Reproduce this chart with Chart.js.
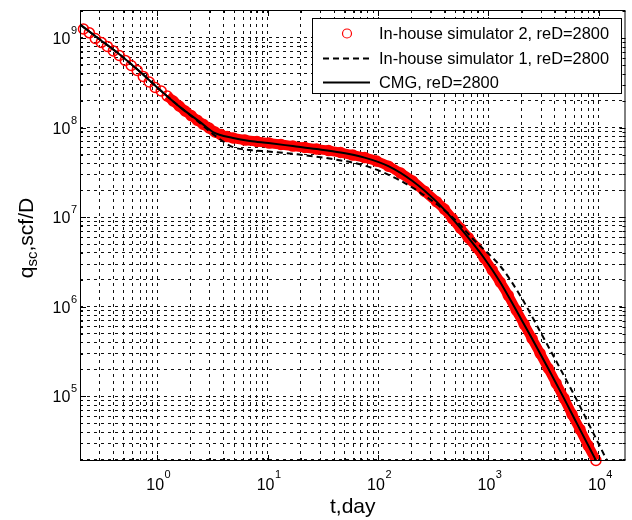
<!DOCTYPE html>
<html>
<head>
<meta charset="utf-8">
<script src="https://cdn.jsdelivr.net/npm/chart.js@4.4.1/dist/chart.umd.min.js"></script>
<style>
html,body{margin:0;padding:0;background:#fff}
#wrap{width:632px;height:520px}
</style>
</head>
<body>
<div id="wrap"><canvas id="mainChart" width="632" height="520"></canvas></div>
<script>
// CMG, reD=2800 (t in day, q in scf/D)
const cmgT = [0.2018, 0.306, 0.463, 0.702, 1.064, 1.61, 2.45, 3.2, 4.86, 6.91, 10.2, 16.9, 27.8, 45.8, 75.5, 124, 205, 338, 471, 656, 915, 1277, 1782, 2483, 3465, 4830, 6731, 9397];
const cmgQ = [1.4e9, 9.5e8, 6.46e8, 4.17e8, 2.62e8, 1.69e8, 1.15e8, 8.91e7, 7.64e7, 7.06e7, 6.71e7, 6.21e7, 5.75e7, 5.26e7, 4.62e7, 3.71e7, 2.53e7, 1.49e7, 9.62e6, 5.9e6, 3.48e6, 1.88e6, 9.14e5, 4.39e5, 2.06e5, 9.5e4, 4.28e4, 1.93e4];

// In-house simulator 1
const sim1T = [0.2018, 0.306, 0.463, 0.702, 1.064, 1.61, 2.45, 3.2, 4.86, 6.91, 10.2, 19.5, 38.8, 78.6, 156, 311, 471, 743, 1303, 1976, 2995, 4350, 6327, 8827, 11810];
const sim1Q = [1.4e9, 9.5e8, 6.46e8, 4.17e8, 2.62e8, 1.69e8, 1.12e8, 8.45e7, 6.05e7, 5.61e7, 5.4e7, 4.99e7, 4.45e7, 3.71e7, 2.59e7, 1.51e7, 1.0e7, 5.53e6, 2.76e6, 1.28e6, 5.06e5, 2.16e5, 9.02e4, 3.96e4, 1.93e4];

// In-house simulator 2 (circles)
const sim2T = [0.215, 0.243, 0.275, 0.312, 0.354, 0.401, 0.454, 0.514, 0.582, 0.659, 0.748, 0.847, 0.959, 1.087, 1.231, 1.394, 1.58, 1.79, 2.03, 2.30, 2.60, 2.95, 3.34, 3.78, 4.29,
  4.86, 6.23, 8.0, 10.3, 13.2, 16.9, 21.7, 27.8, 35.7, 45.8, 58.9, 75.5, 96.9, 124, 160, 205, 263, 338, 398, 471, 556, 656, 775, 915, 1081, 1277, 1508, 1782, 2103, 2483, 2931, 3465, 4093, 4830, 5702, 6731, 7955, 9397];
const sim2Q = [1.26e9, 1.14e9, 9.87e8, 8.91e8, 8.04e8, 7.16e8, 6.37e8, 5.61e8, 4.93e8, 4.34e8, 3.72e8, 3.22e8, 2.80e8, 2.56e8, 2.25e8, 1.98e8, 1.74e8, 1.53e8, 1.36e8, 1.21e8, 1.09e8, 9.87e7, 8.91e7, 8.35e7, 7.93e7,
  7.64e7, 7.25e7, 6.98e7, 6.71e7, 6.46e7, 6.21e7, 5.98e7, 5.75e7, 5.53e7, 5.26e7, 4.93e7, 4.62e7, 4.22e7, 3.71e7, 3.10e7, 2.53e7, 1.95e7, 1.49e7, 1.23e7, 9.62e6, 7.53e6, 5.90e6, 4.62e6, 3.48e6, 2.56e6, 1.88e6, 1.34e6, 9.14e5, 6.37e5, 4.39e5, 3.02e5, 2.06e5, 1.40e5, 9.5e4, 6.30e4, 4.28e4, 2.84e4, 1.93e4];

// axes
const xDecades = [0.1, 1, 10, 100, 1000, 10000];
const yDecades = [1e4, 1e5, 1e6, 1e7, 1e8, 1e9];
const steps = [1, 2, 3, 4, 5, 6, 7, 8, 9];
const xLabelValues = [1, 10, 100, 1000, 10000];
const xLabelExp = ['0', '1', '2', '3', '4'];
const yLabelValues = [1e5, 1e6, 1e7, 1e8, 1e9];
const yLabelExp = ['5', '6', '7', '8', '9'];

const FONT = '"Liberation Sans", Arial, Helvetica, sans-serif';
const RED = '#ff0000';
const BAND_FROM = 1.2; // circles merge into a solid band from here on

function pts(ts, qs) {
  return ts.map((t, i) => ({x: t, y: qs[i]}));
}
function gridTicks(decades, min, max) {
  const out = [];
  decades.forEach(d => steps.forEach(s => {
    const v = d * s;
    if (v > min && v < max) out.push({value: v, major: s === 1});
  }));
  return out;
}

const frameAndLabels = {
  id: 'frameAndLabels',
  afterDraw(chart) {
    const ctx = chart.ctx;
    const a = chart.chartArea;
    const xs = chart.scales.x, ys = chart.scales.y;
    ctx.save();
    ctx.strokeStyle = '#000';
    ctx.lineWidth = 1;
    ctx.setLineDash([]);
    // inward ticks on all four sides
    ctx.beginPath();
    xs.ticks.forEach(t => {
      const px = Math.round(xs.getPixelForValue(t.value)) + 0.5;
      const len = t.major ? 6 : 3;
      ctx.moveTo(px, a.bottom); ctx.lineTo(px, a.bottom - len);
      ctx.moveTo(px, a.top); ctx.lineTo(px, a.top + len);
    });
    ys.ticks.forEach(t => {
      const py = Math.round(ys.getPixelForValue(t.value)) + 0.5;
      const len = t.major ? 6 : 3;
      ctx.moveTo(a.left, py); ctx.lineTo(a.left + len, py);
      ctx.moveTo(a.right, py); ctx.lineTo(a.right - len, py);
    });
    ctx.stroke();
    ctx.strokeRect(a.left + 0.5, a.top + 0.5, a.right - a.left - 1, a.bottom - a.top - 1);

    // tick labels 10^n
    ctx.fillStyle = '#000';
    ctx.textAlign = 'left';
    ctx.textBaseline = 'alphabetic';
    xLabelValues.forEach((v, i) => {
      const px = xs.getPixelForValue(v);
      ctx.font = '16px ' + FONT;
      const wb = ctx.measureText('10').width;
      ctx.font = '11px ' + FONT;
      const we = ctx.measureText(xLabelExp[i]).width;
      const left = px - (wb + we) / 2 + 1;
      ctx.font = '16px ' + FONT;
      ctx.fillText('10', left, 490);
      ctx.font = '11px ' + FONT;
      ctx.fillText(xLabelExp[i], left + wb + 0.5, 477.5);
    });
    yLabelValues.forEach((v, i) => {
      const py = ys.getPixelForValue(v);
      ctx.font = '11px ' + FONT;
      const we = ctx.measureText(yLabelExp[i]).width;
      ctx.font = '16px ' + FONT;
      const wb = ctx.measureText('10').width;
      const right = 77;
      ctx.fillText('10', right - we - wb - 0.5, py + 6);
      ctx.font = '11px ' + FONT;
      ctx.fillText(yLabelExp[i], right - we, py - 4);
    });

    // axis titles
    ctx.font = '21px ' + FONT;
    ctx.textAlign = 'center';
    ctx.fillText('t,day', (a.left + a.right) / 2, 513);

    ctx.save();
    ctx.translate(33, 238);
    ctx.rotate(-Math.PI / 2);
    ctx.textAlign = 'left';
    ctx.font = '21px ' + FONT;
    const wq = ctx.measureText('q').width;
    const wr = ctx.measureText(',scf/D').width;
    ctx.font = '15px ' + FONT;
    const ws = ctx.measureText('sc').width;
    let x0 = -(wq + ws + wr) / 2;
    ctx.font = '21px ' + FONT;
    ctx.fillText('q', x0, 0);
    ctx.font = '15px ' + FONT;
    ctx.fillText('sc', x0 + wq, 4);
    ctx.font = '21px ' + FONT;
    ctx.fillText(',scf/D', x0 + wq + ws, 0);
    ctx.restore();

    // legend
    const L = 312, T = 18, W = 309, H = 75;
    ctx.fillStyle = '#fff';
    ctx.fillRect(L, T, W, H);
    ctx.strokeStyle = '#000';
    ctx.lineWidth = 1;
    ctx.strokeRect(L + 0.5, T + 0.5, W, H);
    const rows = [33.5, 58.5, 82.5];
    const order = [2, 1, 0];
    ctx.font = '16.4px ' + FONT;
    ctx.textAlign = 'left';
    ctx.textBaseline = 'middle';
    order.forEach((di, r) => {
      const ds = chart.data.datasets[di];
      const cy = rows[r];
      ctx.save();
      if (ds.showLine === false) {
        ctx.strokeStyle = RED;
        ctx.lineWidth = 1.2;
        ctx.beginPath();
        ctx.arc(347, cy, 4.5, 0, Math.PI * 2);
        ctx.stroke();
      } else {
        ctx.strokeStyle = '#000';
        ctx.lineWidth = 2;
        ctx.setLineDash(ds.borderDash || []);
        ctx.beginPath();
        ctx.moveTo(323, cy); ctx.lineTo(370, cy);
        ctx.stroke();
      }
      ctx.restore();
      ctx.fillStyle = '#000';
      ctx.fillText(ds.label, 379, cy + 1);
    });
    ctx.restore();
  }
};

const sim2Pts = pts(sim2T, sim2Q);

const ctx = document.getElementById('mainChart').getContext('2d');
window.myChart = new Chart(ctx, {
  type: 'line',
  data: {
    datasets: [
      {
        label: 'CMG, reD=2800',
        data: pts(cmgT, cmgQ),
        borderColor: '#000',
        borderWidth: 2,
        pointRadius: 0,
        cubicInterpolationMode: 'monotone',
        fill: false
      },
      {
        label: 'In-house simulator 1, reD=2800',
        data: pts(sim1T, sim1Q),
        borderColor: '#000',
        borderWidth: 2,
        borderDash: [6, 4],
        pointRadius: 0,
        cubicInterpolationMode: 'monotone',
        fill: false
      },
      {
        label: 'In-house simulator 2, reD=2800',
        data: sim2Pts,
        showLine: false,
        clip: false,
        pointStyle: 'circle',
        radius: 5,
        pointRadius: 5,
        pointBorderWidth: 1.5,
        pointBorderColor: RED,
        pointBackgroundColor: 'rgba(255,255,255,0)',
        fill: false
      },
      {
        label: '',
        data: sim2Pts.filter(p => p.x >= BAND_FROM),
        borderColor: RED,
        borderWidth: 10,
        pointRadius: 0,
        cubicInterpolationMode: 'monotone',
        fill: false
      }
    ]
  },
  options: {
    responsive: false,
    devicePixelRatio: 1,
    animation: false,
    layout: {padding: {left: 80, top: 10, right: 5, bottom: 59}},
    plugins: {legend: {display: false}, tooltip: {enabled: false}},
    scales: {
      x: {
        type: 'logarithmic',
        min: 0.2,
        max: 17400,
        afterBuildTicks: s => { s.ticks = gridTicks(xDecades, 0.2, 17400); },
        afterFit: s => { s.height = 0; },
        ticks: {display: false},
        grid: {color: '#111', lineWidth: 1, drawTicks: false},
        border: {display: false, dash: [3, 4]}
      },
      y: {
        type: 'logarithmic',
        min: 1.9e4,
        max: 2.05e9,
        afterBuildTicks: s => { s.ticks = gridTicks(yDecades, 1.9e4, 2.05e9); },
        afterFit: s => { s.width = 0; },
        ticks: {display: false},
        grid: {color: '#111', lineWidth: 1, drawTicks: false},
        border: {display: false, dash: [3, 4]}
      }
    }
  },
  plugins: [frameAndLabels]
});
</script>
</body>
</html>
